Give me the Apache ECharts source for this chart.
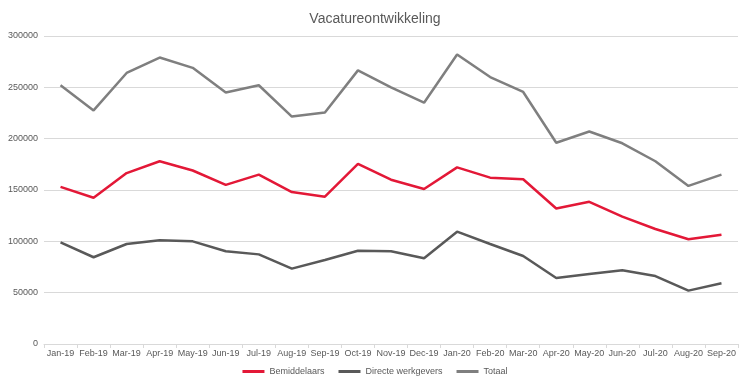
<!DOCTYPE html>
<html><head><meta charset="utf-8">
<script src="https://cdn.jsdelivr.net/npm/echarts@6/dist/echarts.min.js"></script>
<style>html,body{margin:0;padding:0;background:#fff}#c{width:750px;height:388px}</style>
</head><body><div id="c"></div>
<script>
const categories = ['Jan-19','Feb-19','Mar-19','Apr-19','May-19','Jun-19','Jul-19','Aug-19','Sep-19','Oct-19','Nov-19','Dec-19','Jan-20','Feb-20','Mar-20','Apr-20','May-20','Jun-20','Jul-20','Aug-20','Sep-20'];
const bemiddelaars = [153000,142500,166500,178000,169000,155000,165000,148000,143500,175500,160000,151000,172000,162000,160500,132000,138500,124000,112000,102000,106500];
const directe = [99000,84500,97400,101000,100000,90300,87300,73400,81800,90900,90300,83500,109400,97400,85700,64300,68200,71800,66200,52000,59100];
const totaal = [252000,227500,264000,279000,269000,245000,252000,221500,225500,266500,250000,235000,282000,260000,245500,196000,207000,195500,178000,154000,165000];
const chart = echarts.init(document.getElementById('c'));
const font = 'Liberation Sans, Arial, sans-serif';
chart.setOption({
  animation:false,
  title:{text:'Vacatureontwikkeling',left:'center',top:7,textStyle:{fontFamily:font,fontSize:14,fontWeight:'normal',color:'#595959'}},
  legend:{bottom:7,left:'center',itemWidth:22,itemHeight:3,itemGap:14,icon:'rect',textStyle:{fontFamily:font,fontSize:9,color:'#595959'},
    data:['Bemiddelaars','Directe werkgevers','Totaal']},
  grid:{left:44,right:12,top:36,bottom:44},
  xAxis:{type:'category',data:categories,boundaryGap:true,
    axisLine:{lineStyle:{color:'#d9d9d9'}},axisTick:{show:true,length:4,lineStyle:{color:'#d9d9d9'}},
    axisLabel:{fontFamily:font,fontSize:9,color:'#595959',interval:0,margin:5}},
  yAxis:{type:'value',min:0,max:300000,interval:50000,
    axisLine:{show:false},axisTick:{show:false},
    splitLine:{lineStyle:{color:'#d9d9d9'}},
    axisLabel:{fontFamily:font,fontSize:9,color:'#595959',margin:6,formatter:function(v){return String(v);}}},
  series:[
    {name:'Bemiddelaars',type:'line',data:bemiddelaars,symbol:'none',lineStyle:{width:2.5,color:'#E31837'},itemStyle:{color:'#E31837'}},
    {name:'Directe werkgevers',type:'line',data:directe,symbol:'none',lineStyle:{width:2.5,color:'#595959'},itemStyle:{color:'#595959'}},
    {name:'Totaal',type:'line',data:totaal,symbol:'none',lineStyle:{width:2.5,color:'#7F7F7F'},itemStyle:{color:'#7F7F7F'}}
  ]
});
</script></body></html>
